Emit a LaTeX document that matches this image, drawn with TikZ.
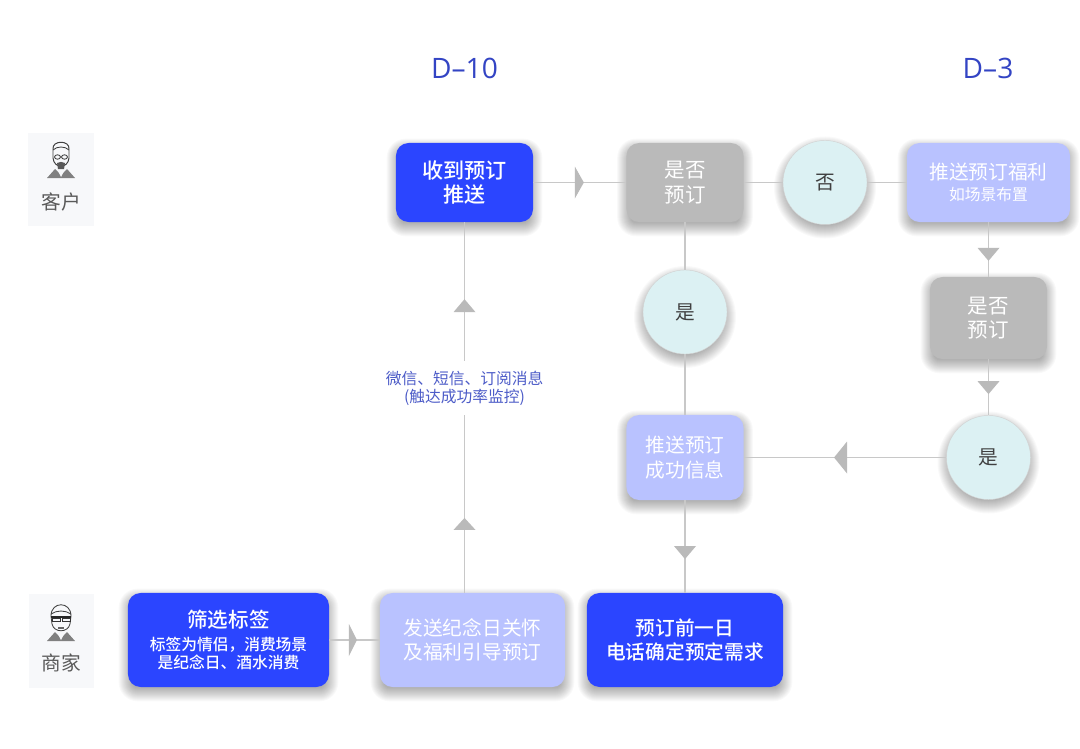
\documentclass[tikz,border=0pt]{standalone}
\usepackage{fontspec}
\setmainfont{Noto Sans CJK SC}
\newfontfamily\latinfont{Open Sans}
\newfontfamily\mediumfont{Noto Sans CJK SC}[UprightFont=* Medium]
\usetikzlibrary{arrows.meta,positioning,calc,decorations.markings,backgrounds}
\definecolor{deepblue}{HTML}{2B45FF}
\definecolor{paleblue}{HTML}{B9C2FF}
\definecolor{midgray}{HTML}{BABABA}
\definecolor{palecyan}{HTML}{DCF1F3}
\definecolor{linegray}{HTML}{C8C8C8}
\definecolor{headblue}{HTML}{3344C4}
\definecolor{notecolor}{HTML}{4D5CC8}
\definecolor{cardgray}{HTML}{F7F8FA}
\newcommand{\smalltext}{\fontsize{11.2}{13}\selectfont}

\begin{document}
\begin{tikzpicture}[
  x=0.025cm,y=-0.025cm,
  font=\fontsize{14}{17.5}\selectfont,
  softlayer/.style={fill=black,fill opacity=.024},
  flowbox/.style={rounded corners=9pt,align=center,text=white,inner sep=0pt},
  bluebox/.style={flowbox,fill=deepblue},
  palebox/.style={flowbox,fill=paleblue},
  graybox/.style={flowbox,fill=midgray},
  answer/.style={circle,fill=palecyan,draw=gray!35,line width=.3pt,minimum size=2.1cm,inner sep=0pt,text=black!75},
  card/.style={fill=cardgray,inner sep=0pt,minimum width=1.63cm,minimum height=2.33cm},
  role/.style={text=black!65,inner sep=0pt},
  flow/.style={draw=linegray,line width=.85pt},
  tipat/.style n args={3}{postaction={decorate,decoration={markings,mark=at position #1 with {\fill[midgray] (0,-#3) -- (#2,0) -- (0,#3) -- cycle;}}}},
  headline/.style={text=headblue,font=\fontsize{20}{24}\selectfont\latinfont,inner sep=0pt},
  note/.style={text=notecolor,fill=white,align=center,inner sep=0pt,minimum height=37.7pt,font=\smalltext}
]
\useasboundingbox (0,0) rectangle (1080,749);

\node[headline] (dten) at (464.5,68) {D–10};
\node[headline] (dthree) at (988,68) {D–3};

% role cards
\node[card] (guestcard) at (61,179.5) {};
\node[card] (shopcard) at (61.5,641) {};
\node[role] (guest) at (61,202) {客户};
\node[role] (shop) at (61,663) {商家};

% customer face
\begin{scope}[shift={(61,160)}]
  \fill[black!50] (-14,18) -- (-6,9) -- (0,15) -- (6,9) -- (14,18) -- cycle;
  \fill[cardgray] (-4,9) -- (0,17) -- (4,9) -- cycle;
  \draw[black!75,line width=.7pt,fill=cardgray] (-8,-11) .. controls (-9,-20) and (9,-20) .. (8,-11) -- (8,-2) .. controls (7,9) and (-7,9) .. (-8,-2) -- cycle;
  \draw[black!75,line width=.6pt] (-8,-10) .. controls (-4,-14) and (4,-14) .. (8,-10);
  \draw[black!75,line width=.6pt] (-3.5,-3) ellipse [x radius=3,y radius=2.2] (3.5,-3) ellipse [x radius=3,y radius=2.2];
  \fill[black!65] (-4,3) .. controls (-1,1.5) and (1,1.5) .. (4,3) -- (3,9) -- (-3,9) -- cycle;
\end{scope}

% merchant face
\begin{scope}[shift={(61,622)}]
  \fill[black!50] (-14,19) -- (-6,10) -- (0,16) -- (6,10) -- (14,19) -- cycle;
  \fill[cardgray] (-4,10) -- (0,18) -- (4,10) -- cycle;
  \draw[black!75,line width=.6pt,fill=cardgray] (-10,-6) .. controls (-10,-21) and (10,-21) .. (10,-6) -- (9,2) .. controls (7,11) and (-7,11) .. (-9,2) -- cycle;
  \draw[black!75,line width=.6pt] (-10,-8) .. controls (-4,-12) and (4,-12) .. (10,-8);
  \draw[black!80,line width=.6pt] (-9,-4) rectangle (-1,-1) (1,-4) rectangle (9,-1);
  \fill[black!85] (-10,-6) rectangle (10,-4);
  \fill[black!60] (-3,5) rectangle (3,6.5);
\end{scope}

% boxes
\node[bluebox,minimum width=3.425cm,minimum height=1.975cm,font=\fontsize{15}{17.5}\selectfont\mediumfont] (recv) at (464.5,182.5) {收到预订\\推送};
\node[graybox,minimum width=2.925cm,minimum height=1.975cm,font=\fontsize{14.6}{17.5}\selectfont] (askone) at (685,182.5) {是否\\预订};
\node[answer] (no) at (825,182.5) {否};
\node[palebox,minimum width=4.075cm,minimum height=1.975cm] (perk) at (988.5,182.5) {推送预订福利\\[-3pt]{\smalltext 如场景布置}};
\node[graybox,minimum width=2.925cm,minimum height=2.05cm,font=\fontsize{14.6}{17.5}\selectfont] (asktwo) at (988.5,318) {是否\\预订};
\node[answer] (yesone) at (685,312) {是};
\node[answer] (yestwo) at (988.5,457.5) {是};
\node[palebox,minimum width=2.925cm,minimum height=2.125cm] (success) at (685,457.5) {推送预订\\成功信息};
\node[bluebox,minimum width=5.025cm,minimum height=2.35cm,font=\fontsize{11.2}{12.8}\selectfont\mediumfont] (filter) at (228.5,640) {{\fontsize{14.6}{17}\selectfont 筛选标签}\\[3.5pt]标签为情侣，消费场景\\是纪念日、酒水消费};
\node[palebox,minimum width=4.625cm,minimum height=2.35cm] (care) at (472.5,640) {发送纪念日关怀\\及福利引导预订};
\node[bluebox,minimum width=4.9cm,minimum height=2.35cm,font=\fontsize{14}{17}\selectfont\mediumfont] (call) at (685,640) {预订前一日\\电话确定预定需求};

% soft shadows under the boxes
\begin{scope}[on background layer]
  \fill[white] (0,0) rectangle (1080,749);
  \foreach \boxname in {recv,askone,perk,asktwo,success,filter,care,call}
    \foreach \grow in {-4,...,9}
      \path[softlayer,rounded corners=7pt+0.71pt*\grow] ($(\boxname.south west)+(0-\grow,5+\grow)$) rectangle ($(\boxname.north east)+(\grow,5-\grow)$);
  \foreach \boxname in {no,yesone,yestwo}
    \foreach \grow in {-4,...,9}
      \path[softlayer] ($(\boxname)+(0,5)$) circle [radius=42+\grow];
\end{scope}

\coordinate (carepoint) at (464.5,593);
\coordinate (recvpoint) at (464.5,222);

% connectors
\draw[flow,tipat={.447}{9}{16}] (recv.east) -- (askone.west);
\draw[flow] (askone.east) -- (no.west);
\draw[flow] (no.east) -- (perk.west);
\draw[flow] (askone.south) -- (yesone.north);
\draw[flow] (yesone.south) -- (success.north);
\draw[flow,tipat={.495}{13}{11}] (success.south) -- (call.north);
\draw[flow,tipat={.47}{13}{11}] (perk.south) -- (asktwo.north);
\draw[flow,tipat={.39}{13}{11}] (asktwo.south) -- (yestwo.north);
\draw[flow,tipat={.49}{13}{16}] (yestwo.west) -- (success.east);
\draw[flow,tipat={.39}{8}{16}] (filter.east) -- (care.west);
\draw[flow,tipat={.17}{12}{11},tipat={.757}{13}{11}] (carepoint) -- (recvpoint);
\node[note] (channel) at (464.5,388) {微信、短信、订阅消息\\(触达成功率监控)};
\end{tikzpicture}
\end{document}
